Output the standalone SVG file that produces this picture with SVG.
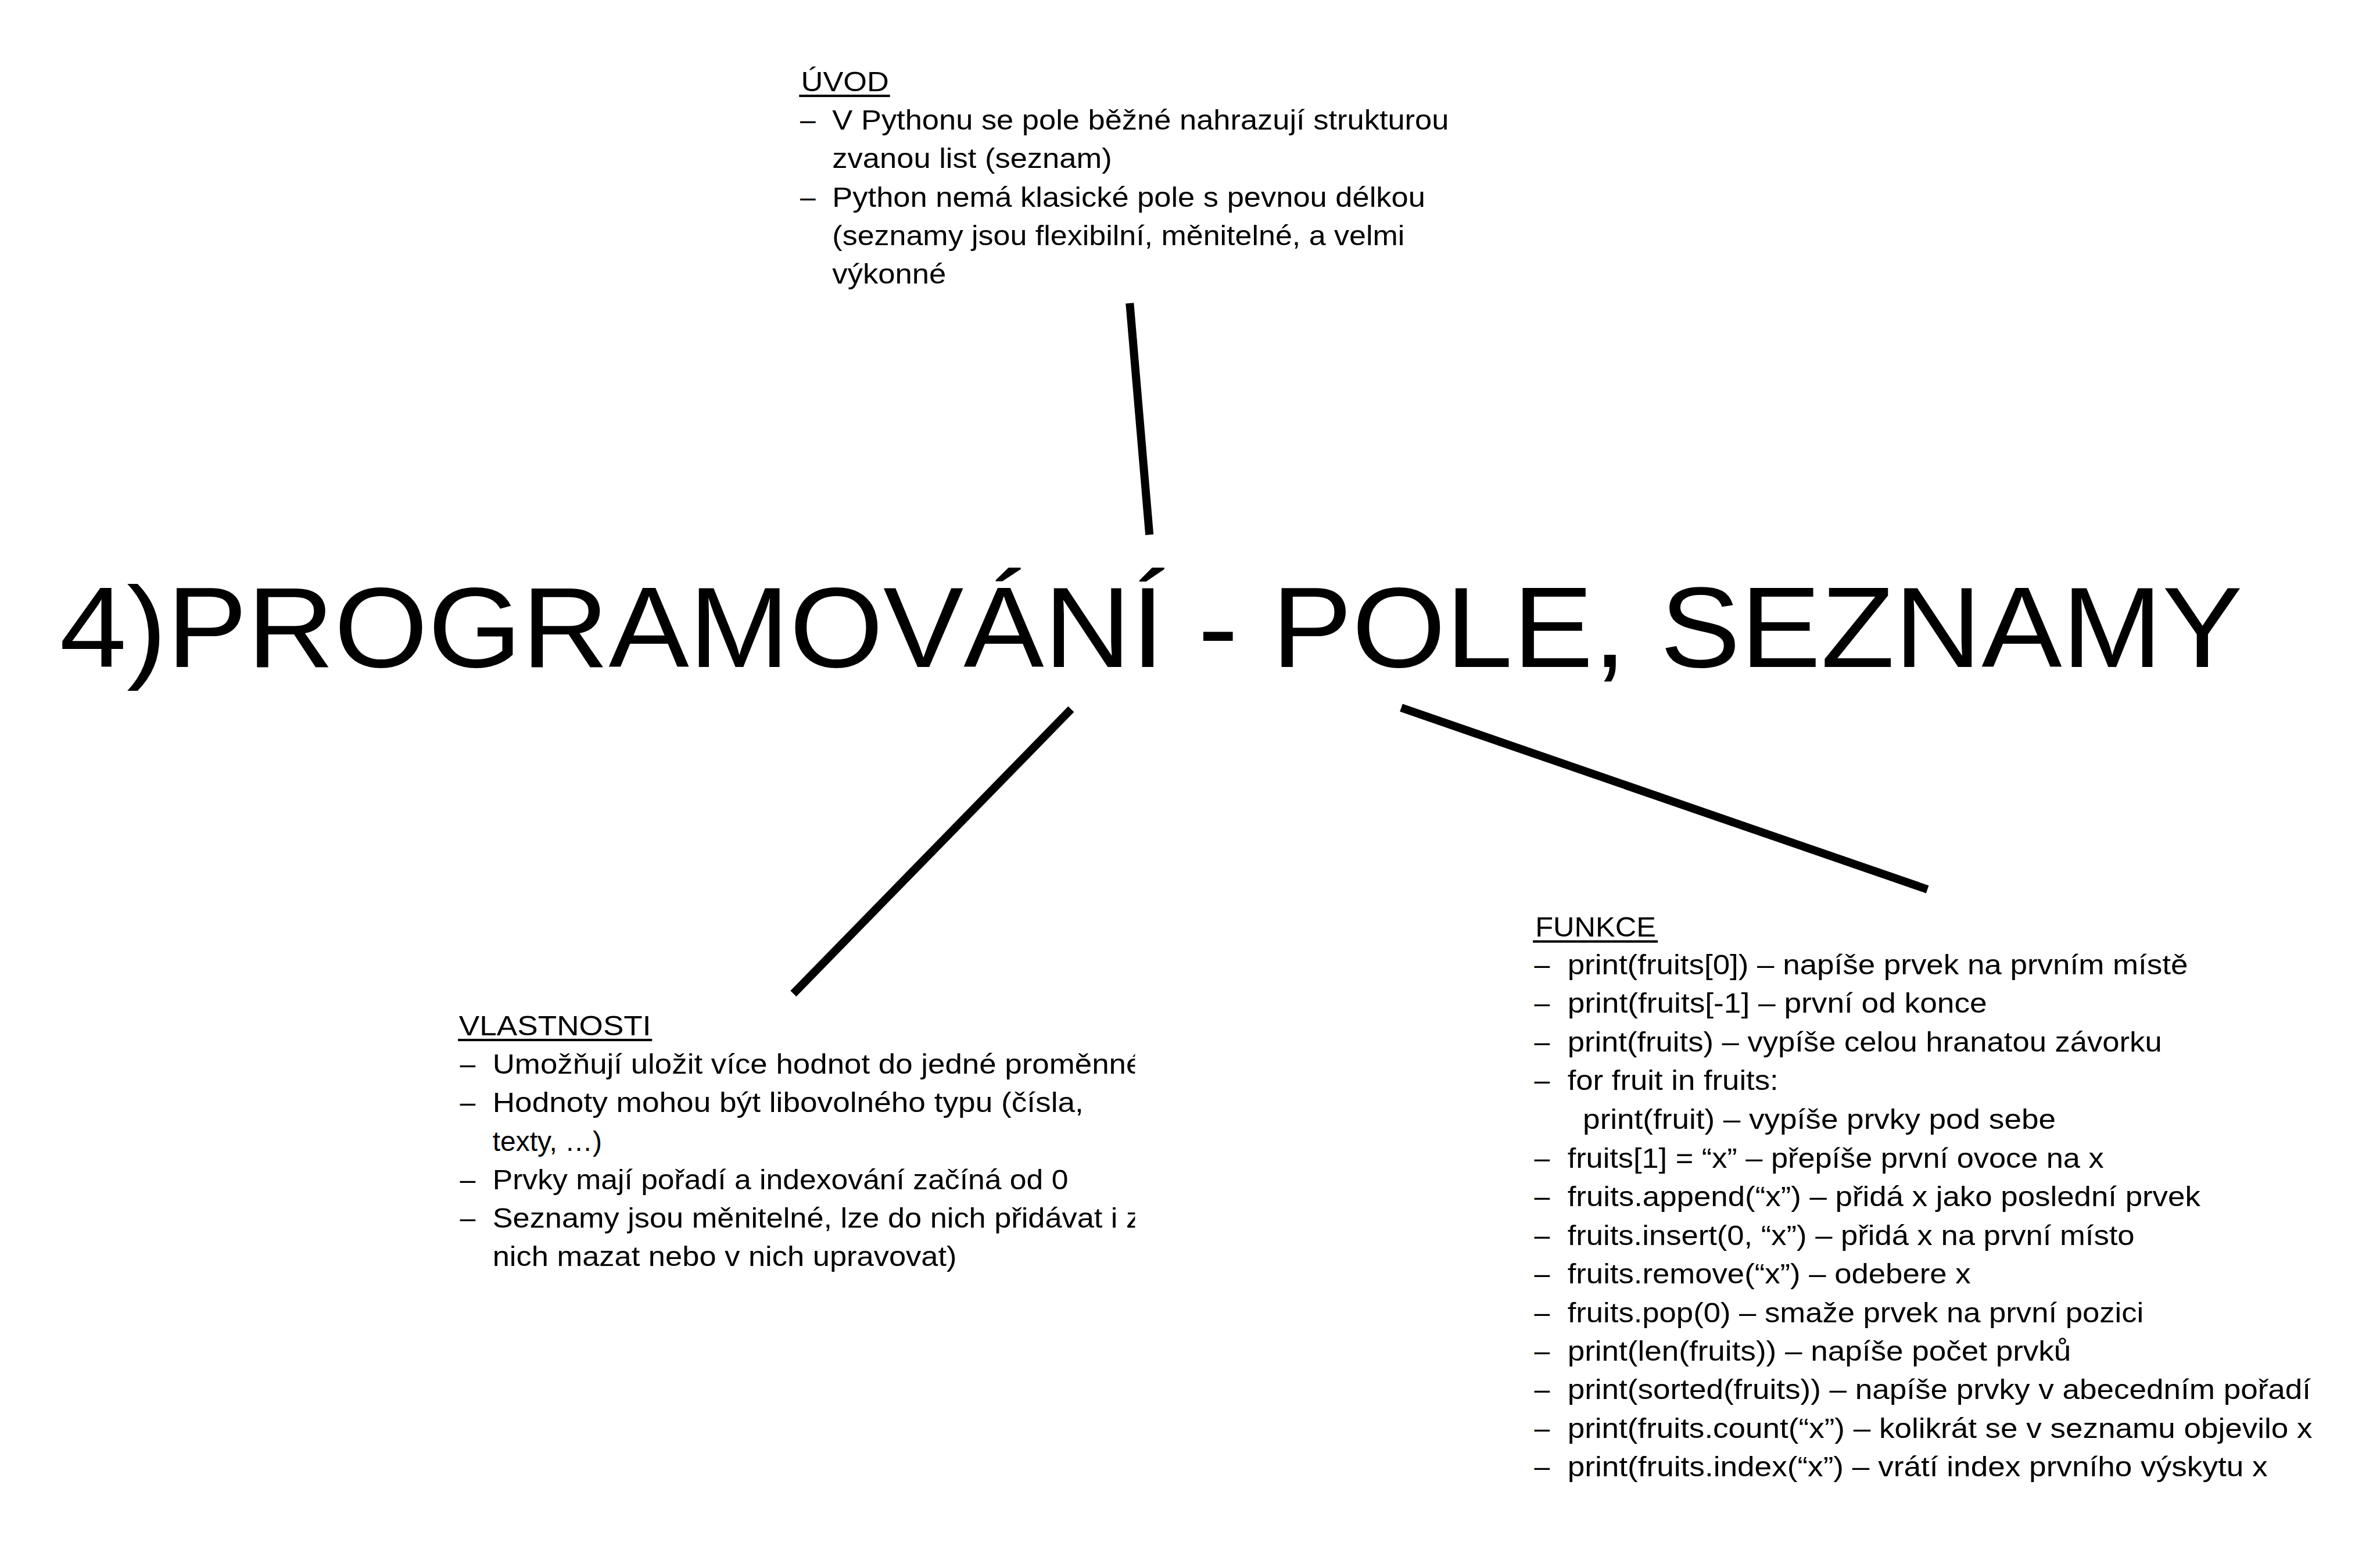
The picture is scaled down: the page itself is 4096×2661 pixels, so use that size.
<svg xmlns="http://www.w3.org/2000/svg" width="4096" height="2661" viewBox="0 0 4096 2661">
<defs>
<style>
.t{font-family:"Liberation Sans",Arial,sans-serif;font-size:58px;fill:#000}
.h{font-family:"Liberation Sans",Arial,sans-serif;font-size:237px;fill:#000}
.c{stroke:#000;stroke-width:17;stroke-linecap:butt;fill:none}
.u{fill:#000}
</style>
<clipPath id="clipV" clipPathUnits="userSpaceOnUse"><rect x="0" y="1900" width="2362" height="900"/></clipPath>
</defs>
<rect x="0" y="0" width="4096" height="2661" fill="#fff"/>
<g transform="scale(0.827)">
<g id="connectors">
<line class="c" x1="2351" y1="631" x2="2392" y2="1113"/>
<line class="c" x1="2229" y1="1476" x2="1651" y2="2068"/>
<line class="c" x1="2916" y1="1473" x2="4011" y2="1851"/>
</g>
<g id="title">
<text class="h" x="124" y="1388" textLength="4543" lengthAdjust="spacingAndGlyphs">4)PROGRAMOVÁNÍ - POLE, SEZNAMY</text>
</g>
<g id="uvod">
<text class="t" x="1667" y="190" textLength="183" lengthAdjust="spacingAndGlyphs">ÚVOD</text>
<rect class="u" x="1663" y="197" width="189" height="5"/>
<text class="t" x="1665" y="270">–</text>
<text class="t" x="1732" y="270" textLength="1283" lengthAdjust="spacingAndGlyphs">V Pythonu se pole běžné nahrazují strukturou</text>
<text class="t" x="1732" y="350" textLength="582" lengthAdjust="spacingAndGlyphs">zvanou list (seznam)</text>
<text class="t" x="1665" y="430">–</text>
<text class="t" x="1732" y="430" textLength="1234" lengthAdjust="spacingAndGlyphs">Python nemá klasické pole s pevnou délkou</text>
<text class="t" x="1732" y="510" textLength="1191" lengthAdjust="spacingAndGlyphs">(seznamy jsou flexibilní, měnitelné, a velmi</text>
<text class="t" x="1732" y="590" textLength="237" lengthAdjust="spacingAndGlyphs">výkonné</text>
</g>
<g id="vlastnosti" clip-path="url(#clipV)">
<text class="t" x="955" y="2155" textLength="400" lengthAdjust="spacingAndGlyphs">VLASTNOSTI</text>
<rect class="u" x="953" y="2162" width="404" height="5"/>
<text class="t" x="957" y="2235">–</text>
<text class="t" x="1025" y="2235" textLength="1354" lengthAdjust="spacingAndGlyphs">Umožňují uložit více hodnot do jedné proměnné</text>
<text class="t" x="957" y="2315">–</text>
<text class="t" x="1025" y="2315" textLength="1230" lengthAdjust="spacingAndGlyphs">Hodnoty mohou být libovolného typu (čísla,</text>
<text class="t" x="1025" y="2395">texty, …)</text>
<text class="t" x="957" y="2475">–</text>
<text class="t" x="1025" y="2475" textLength="1198" lengthAdjust="spacingAndGlyphs">Prvky mají pořadí a indexování začíná od 0</text>
<text class="t" x="957" y="2555">–</text>
<text class="t" x="1025" y="2555" textLength="1350" lengthAdjust="spacingAndGlyphs">Seznamy jsou měnitelné, lze do nich přidávat i z</text>
<text class="t" x="1025" y="2635" textLength="966" lengthAdjust="spacingAndGlyphs">nich mazat nebo v nich upravovat)</text>
</g>
<g id="funkce">
<text class="t" x="3195" y="1949" textLength="251" lengthAdjust="spacingAndGlyphs">FUNKCE</text>
<rect class="u" x="3190" y="1957" width="260" height="5"/>
<text class="t" x="3193" y="2028">–</text>
<text class="t" x="3262" y="2028" textLength="1291" lengthAdjust="spacingAndGlyphs">print(fruits[0]) – napíše prvek na prvním místě</text>
<text class="t" x="3193" y="2108">–</text>
<text class="t" x="3262" y="2108" textLength="873" lengthAdjust="spacingAndGlyphs">print(fruits[-1] – první od konce</text>
<text class="t" x="3193" y="2189">–</text>
<text class="t" x="3262" y="2189" textLength="1237" lengthAdjust="spacingAndGlyphs">print(fruits) – vypíše celou hranatou závorku</text>
<text class="t" x="3193" y="2269">–</text>
<text class="t" x="3262" y="2269" textLength="439" lengthAdjust="spacingAndGlyphs">for fruit in fruits:</text>
<text class="t" x="3294" y="2350" textLength="984" lengthAdjust="spacingAndGlyphs">print(fruit) – vypíše prvky pod sebe</text>
<text class="t" x="3193" y="2430">–</text>
<text class="t" x="3262" y="2430" textLength="1116" lengthAdjust="spacingAndGlyphs">fruits[1] = “x” – přepíše první ovoce na x</text>
<text class="t" x="3193" y="2510">–</text>
<text class="t" x="3262" y="2510" textLength="1317" lengthAdjust="spacingAndGlyphs">fruits.append(“x”) – přidá x jako poslední prvek</text>
<text class="t" x="3193" y="2591">–</text>
<text class="t" x="3262" y="2591" textLength="1180" lengthAdjust="spacingAndGlyphs">fruits.insert(0, “x”) – přidá x na první místo</text>
<text class="t" x="3193" y="2671">–</text>
<text class="t" x="3262" y="2671" textLength="839" lengthAdjust="spacingAndGlyphs">fruits.remove(“x”) – odebere x</text>
<text class="t" x="3193" y="2752">–</text>
<text class="t" x="3262" y="2752" textLength="1199" lengthAdjust="spacingAndGlyphs">fruits.pop(0) – smaže prvek na první pozici</text>
<text class="t" x="3193" y="2832">–</text>
<text class="t" x="3262" y="2832" textLength="1048" lengthAdjust="spacingAndGlyphs">print(len(fruits)) – napíše počet prvků</text>
<text class="t" x="3193" y="2912">–</text>
<text class="t" x="3262" y="2912" textLength="1547" lengthAdjust="spacingAndGlyphs">print(sorted(fruits)) – napíše prvky v abecedním pořadí</text>
<text class="t" x="3193" y="2993">–</text>
<text class="t" x="3262" y="2993" textLength="1550" lengthAdjust="spacingAndGlyphs">print(fruits.count(“x”) – kolikrát se v seznamu objevilo x</text>
<text class="t" x="3193" y="3073">–</text>
<text class="t" x="3262" y="3073" textLength="1457" lengthAdjust="spacingAndGlyphs">print(fruits.index(“x”) – vrátí index prvního výskytu x</text>
</g>
</g>
</svg>
